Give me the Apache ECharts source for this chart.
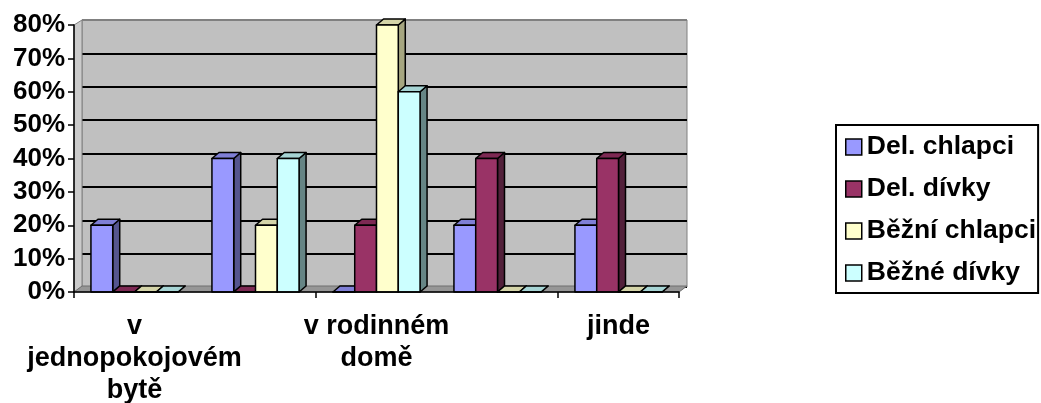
<!DOCTYPE html>
<html>
<head>
<meta charset="utf-8">
<script src="https://cdn.jsdelivr.net/npm/echarts@6/dist/echarts.min.js"></script>
<style>
html,body{margin:0;padding:0;background:#fff;}
#chart{width:1041px;height:403px;}
</style>
</head>
<body>
<div id="chart"></div>
<script>
// Categories (2nd and 4th labels are hidden in the original chart)
const categories = ['v jednopokojovém bytě', '', 'v rodinném domě', '', 'jinde'];
const seriesNames = ['Del. chlapci', 'Del. dívky', 'Běžní chlapci', 'Běžné dívky'];
const delChlapci   = [0.20, 0.40, 0.00, 0.20, 0.20];
const delDivky     = [0.00, 0.00, 0.20, 0.40, 0.40];
const bezniChlapci = [0.00, 0.20, 0.80, 0.00, 0.00];
const bezneDivky   = [0.00, 0.40, 0.60, 0.00, 0.00];
const yTicks = [0, 0.1, 0.2, 0.3, 0.4, 0.5, 0.6, 0.7, 0.8];

const seriesValues = [delChlapci, delDivky, bezniChlapci, bezneDivky];
const faceColors = [
  {front:'#9999FF', top:'#7F7FD6', side:'#55558F'},
  {front:'#993366', top:'#7D2953', side:'#52203A'},
  {front:'#FFFFCC', top:'#D4D4A8', side:'#A6A680'},
  {front:'#CCFFFF', top:'#A6D4D4', side:'#668585'}
];
const DX = 7, DY = -6;
const FONT = "'Liberation Sans', Arial, sans-serif";

function makeRender(idx) {
  const col = faceColors[idx];
  return function (params, api) {
    const c = api.value(0), v = api.value(1);
    const top = api.coord([c, v]);
    const base = api.coord([c, 0]);
    const band = api.size([1, 0])[0];
    const w = band * 0.18;
    const x0 = top[0] - 2 * w + idx * w;
    const x1 = x0 + w;
    const yt = top[1], yb = base[1];
    const stroke = {stroke:'#000', lineWidth:1.5, lineJoin:'round'};
    return {
      type: 'group',
      children: [
        {type:'polygon', shape:{points:[[x1,yt],[x1+DX,yt+DY],[x1+DX,yb+DY],[x1,yb]]},
          style:Object.assign({fill:col.side}, stroke)},
        {type:'polygon', shape:{points:[[x0,yt],[x0+DX,yt+DY],[x1+DX,yt+DY],[x1,yt]]},
          style:Object.assign({fill:col.top}, stroke)},
        {type:'rect', shape:{x:x0, y:yt, width:w, height:yb-yt},
          style:Object.assign({fill:col.front}, stroke)}
      ]
    };
  };
}

function wrapLabel(s) {
  const words = s.split(' ');
  const lines = [];
  let cur = '';
  words.forEach(wd => {
    if (!cur) cur = wd;
    else if ((cur + ' ' + wd).length <= 10) cur += ' ' + wd;
    else { lines.push(cur); cur = wd; }
  });
  if (cur) lines.push(cur);
  return lines.join('\n');
}

const chart = echarts.init(document.getElementById('chart'), null, {renderer:'canvas'});

const splitColors = yTicks.map((t, i) => i === yTicks.length - 1 ? '#808080' : '#000');

const option = {
  animation: false,
  backgroundColor: '#fff',
  grid: [
    {left: 74, right: 362, top: 25, bottom: 111, show: false, containLabel: false, outerBoundsMode: 'none'},
    {left: 82, right: 354, top: 20, bottom: 116, show: true, containLabel: false, outerBoundsMode: 'none',
     backgroundColor: '#C0C0C0', borderColor: '#808080', borderWidth: 1}
  ],
  xAxis: [
    {type:'category', gridIndex:0, data: categories, z: 5,
     axisLine:{show:true, lineStyle:{color:'#000', width:1.5}},
     axisTick:{show:true, length:6, lineStyle:{color:'#000', width:1.5}},
     axisLabel:{interval:1, margin:19, color:'#000', fontFamily:FONT, fontWeight:'bold',
       fontSize:27, lineHeight:32, align:'center', formatter: wrapLabel},
     splitLine:{show:false}},
    {type:'category', gridIndex:1, data: categories, show:false}
  ],
  yAxis: [
    {type:'value', gridIndex:0, min:0, max:0.8, interval:0.1, z: 5,
     axisLine:{show:true, lineStyle:{color:'#000', width:1.5}},
     axisTick:{show:true, length:6, lineStyle:{color:'#000', width:1.5}},
     axisLabel:{margin:9, color:'#000', fontFamily:FONT, fontWeight:'bold', fontSize:26,
       formatter: v => Math.round(v * 100) + '%'},
     splitLine:{show:false}},
    {type:'value', gridIndex:1, min:0, max:0.8, interval:0.1,
     axisLine:{show:false}, axisTick:{show:false}, axisLabel:{show:false},
     splitLine:{show:true, lineStyle:{color: splitColors, width:2}}}
  ],
  legend: {
    orient:'vertical', left: 836, top: 125,
    data: seriesNames, icon:'rect', itemWidth:16, itemHeight:16, itemGap:14,
    itemStyle:{borderColor:'#000', borderWidth:1.5},
    textStyle:{color:'#000', fontFamily:FONT, fontWeight:'bold', fontSize:26.5, lineHeight:28},
    borderColor:'#000', borderWidth:2, padding:[8, 2, 6, 9], itemTextGap: 7
  },
  graphic: [
    {type:'polygon', z: 1, shape:{points:[[74,292],[82,287],[82,20],[74,25]]},
     style:{fill:'#CBCBCB', stroke:'#808080', lineWidth:1}},
    {type:'polygon', z: 1, shape:{points:[[74,292],[679,292],[687,286],[82,286]]},
     style:{fill:'#969696', stroke:'#6E6E6E', lineWidth:1}}
  ],
  series: seriesValues.map((vals, i) => ({
    name: seriesNames[i],
    type: 'custom',
    xAxisIndex: 0, yAxisIndex: 0,
    z: 3,
    itemStyle: {color: faceColors[i].front},
    renderItem: makeRender(i),
    encode: {x: 0, y: 1},
    data: vals.map((v, c) => [c, v])
  }))
};
chart.setOption(option);
</script>
</body>
</html>
